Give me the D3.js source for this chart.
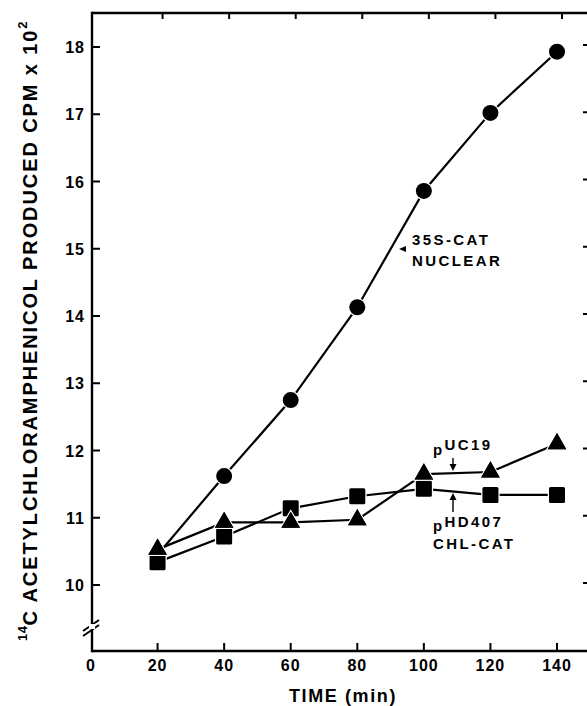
<!DOCTYPE html>
<html>
<head>
<meta charset="utf-8">
<script src="https://cdn.jsdelivr.net/npm/d3@7"></script>
<style>
  html, body { margin: 0; padding: 0; background: #fff; }
  svg { display: block; }
  text { font-family: "Liberation Sans", Arial, Helvetica, sans-serif; font-weight: bold; fill: #000; }
</style>
</head>
<body>
<svg id="chart" width="587" height="706"></svg>
<script>
// ---- data ----
const times = [20, 40, 60, 80, 100, 120, 140];
const nuclear35S = [10.45, 11.62, 12.75, 14.13, 15.86, 17.02, 17.93];   // circles
const pUC19 = [10.53, 10.93, 10.93, 10.97, 11.65, 11.68, 12.10];        // triangles
const pHD407 = [10.34, 10.72, 11.14, 11.32, 11.43, 11.34, 11.34];       // squares
const xTicks = [0, 20, 40, 60, 80, 100, 120, 140];
const yTicks = [10, 11, 12, 13, 14, 15, 16, 17, 18];

const svg = d3.select("#chart");
const pL = 92, pR = 591, pT = 13, pB = 651;

const x = d3.scaleLinear().domain([0, 140]).range([91, 557]);
const y = d3.scaleLinear().domain([10, 18]).range([585, 47]);

// ---- axes ----
const axes = svg.append("g").attr("stroke", "#000").attr("stroke-width", 2.4).attr("fill", "none");
axes.append("line").attr("x1", pL).attr("x2", pR).attr("y1", pB).attr("y2", pB);
axes.append("line").attr("x1", pL).attr("x2", pR).attr("y1", pT).attr("y2", pT);
axes.append("line").attr("x1", pL).attr("x2", pL).attr("y1", pT - 1.2).attr("y2", pB + 1.2);
axes.append("line").attr("x1", pR).attr("x2", pR).attr("y1", pT).attr("y2", pB);

axes.selectAll(".bt").data(xTicks.filter(d => d > 0)).join("line")
  .attr("x1", d => x(d)).attr("x2", d => x(d)).attr("y1", pB).attr("y2", pB - 8).attr("stroke-width", 2);
axes.selectAll(".tt").data(xTicks.filter(d => d > 0)).join("line")
  .attr("x1", d => x(d) + 5).attr("x2", d => x(d) + 5).attr("y1", pT).attr("y2", pT + 6).attr("stroke-width", 2);
axes.selectAll(".lt").data(yTicks).join("line")
  .attr("x1", pL).attr("x2", pL + 8).attr("y1", d => y(d)).attr("y2", d => y(d)).attr("stroke-width", 2);
axes.selectAll(".rt").data(yTicks).join("line")
  .attr("x1", pR - 8).attr("x2", pR).attr("y1", d => y(d) - 2).attr("y2", d => y(d) - 2).attr("stroke-width", 2);

// axis break
svg.append("rect").attr("x", pL - 3).attr("y", 624).attr("width", 6).attr("height", 5).attr("fill", "#fff");
axes.append("line").attr("x1", 83).attr("y1", 631).attr("x2", 99).attr("y2", 620).attr("stroke-width", 2);
axes.append("line").attr("x1", 83).attr("y1", 636).attr("x2", 99).attr("y2", 625).attr("stroke-width", 2);

// tick labels
svg.selectAll(".xl").data(xTicks).join("text")
  .attr("x", d => x(d)).attr("y", 671).attr("text-anchor", "middle")
  .attr("font-size", 16).attr("letter-spacing", 1).text(d => d);
svg.selectAll(".yl").data(yTicks).join("text")
  .attr("x", 85).attr("y", d => y(d) + 6).attr("text-anchor", "end")
  .attr("font-size", 16).attr("letter-spacing", 1).text(d => d);

// axis titles
svg.append("text").attr("x", 343).attr("y", 702).attr("text-anchor", "middle")
  .attr("font-size", 18).attr("letter-spacing", 1.6).text("TIME (min)");

const yt = svg.append("text").attr("transform", "translate(37,641) rotate(-90)")
  .attr("font-size", 20).attr("letter-spacing", 1.9);
yt.append("tspan").attr("font-size", 13).attr("letter-spacing", 0.5).attr("dy", -10).text("14");
yt.append("tspan").attr("dy", 10).text("C ACETYLCHLORAMPHENICOL PRODUCED CPM x 10");
yt.append("tspan").attr("font-size", 13).attr("dy", -10).text("2");

// ---- series ----
const line = d3.line().x(d => x(d[0])).y(d => y(d[1]));
function series(vals) { return times.map((t, i) => [t, vals[i]]); }

const sC = series(nuclear35S), sT = series(pUC19), sS = series(pHD407);
[sC, sT, sS].forEach(s => {
  svg.append("path").datum(s).attr("d", line)
    .attr("fill", "none").attr("stroke", "#000").attr("stroke-width", 2.2);
});

const halo = 2.5;
svg.selectAll(".c").data(sC).join("circle")
  .attr("cx", d => x(d[0])).attr("cy", d => y(d[1])).attr("r", 8)
  .attr("fill", "#000").attr("stroke", "#fff").attr("stroke-width", halo).attr("paint-order", "stroke");
svg.selectAll(".s").data(sS).join("rect")
  .attr("x", d => x(d[0]) - 8).attr("y", d => y(d[1]) - 8).attr("width", 16).attr("height", 16).attr("rx", 1.5)
  .attr("fill", "#000").attr("stroke", "#fff").attr("stroke-width", halo).attr("paint-order", "stroke");
const tri = d3.symbol().type(d3.symbolTriangle).size(150);
svg.selectAll(".t").data(sT).join("path")
  .attr("transform", d => `translate(${x(d[0])},${y(d[1])})`).attr("d", tri)
  .attr("fill", "#000").attr("stroke", "#fff").attr("stroke-width", halo).attr("paint-order", "stroke");
svg.selectAll(".t2").data(sT).join("path")
  .attr("transform", d => `translate(${x(d[0])},${y(d[1])})`).attr("d", tri).attr("fill", "#000");

// ---- annotations ----
const ann = svg.append("g").attr("font-size", 15).attr("letter-spacing", 2.4);
ann.append("text").attr("x", 412).attr("y", 245).text("35S-CAT");
ann.append("text").attr("x", 412).attr("y", 266).text("NUCLEAR");
svg.append("path").attr("d", "M399,249 L406,246 L406,252 Z").attr("fill", "#000");

const t1 = ann.append("text").attr("x", 433).attr("y", 455);
t1.append("tspan").text("p");
t1.append("tspan").attr("dy", -5).text("UC19");
svg.append("line").attr("x1", 453).attr("x2", 453).attr("y1", 458).attr("y2", 466).attr("stroke", "#000").attr("stroke-width", 1.4);
svg.append("path").attr("d", "M449.5,464 L456.5,464 L453,471 Z").attr("fill", "#000");

svg.append("line").attr("x1", 453).attr("x2", 453).attr("y1", 498).attr("y2", 512).attr("stroke", "#000").attr("stroke-width", 1.4);
svg.append("path").attr("d", "M449.5,500 L456.5,500 L453,493 Z").attr("fill", "#000");
const t2 = ann.append("text").attr("x", 433).attr("y", 531);
t2.append("tspan").text("p");
t2.append("tspan").attr("dy", -4).text("HD407");
ann.append("text").attr("x", 433).attr("y", 549).text("CHL-CAT");
</script>
</body>
</html>
